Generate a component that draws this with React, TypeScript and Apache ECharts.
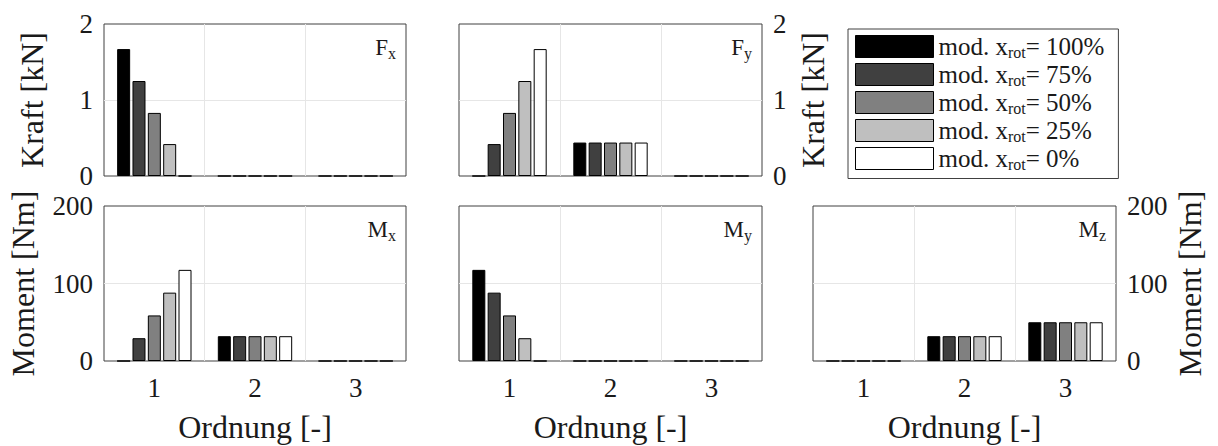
import React, { useEffect, useRef } from 'react';
import * as echarts from 'echarts';

// ---- data ----
const orders = ['1', '2', '3'];
const levelNames = ['100%', '75%', '50%', '25%', '0%'];
const levelColors = ['#000000', '#404040', '#808080', '#bfbfbf', '#ffffff'];

// each row: one x_rot level, values for order 1,2,3
const fxValues = [[1.67, 0, 0], [1.25, 0, 0], [0.83, 0, 0], [0.42, 0, 0], [0, 0, 0]];
const fyValues = [[0, 0.44, 0], [0.42, 0.44, 0], [0.83, 0.44, 0], [1.25, 0.44, 0], [1.67, 0.44, 0]];
const mxValues = [[0, 32, 0], [29.4, 32, 0], [58.8, 32, 0], [88.2, 32, 0], [117.6, 32, 0]];
const myValues = [[117.6, 0, 0], [88.2, 0, 0], [58.8, 0, 0], [29.4, 0, 0], [0, 0, 0]];
const mzValues = [[0, 32, 50], [0, 32, 50], [0, 32, 50], [0, 32, 50], [0, 32, 50]];

const forceTicks = { max: 2, interval: 1 };
const momentTicks = { max: 200, interval: 100 };
const xName = 'Ordnung [-]';
const forceName = 'Kraft [kN]';
const momentName = 'Moment [Nm]';

// ---- layout ----
const FONT = "'Liberation Serif', 'DejaVu Serif', serif";
const TXT = '#1a1a1a';

const panels = [
  { data: fxValues, sym: ['F', 'x'], left: 104, top: 24, width: 302, height: 152, ticks: forceTicks, side: 'left', yLabel: true, yName: forceName, nameGap: 56, xLabel: false },
  { data: fyValues, sym: ['F', 'y'], left: 459, top: 24, width: 303, height: 152, ticks: forceTicks, side: 'right', yLabel: true, yName: forceName, nameGap: 35, xLabel: false },
  { data: mxValues, sym: ['M', 'x'], left: 104, top: 206, width: 302, height: 155, ticks: momentTicks, side: 'left', yLabel: true, yName: momentName, nameGap: 65, xLabel: true },
  { data: myValues, sym: ['M', 'y'], left: 459, top: 206, width: 303, height: 155, ticks: momentTicks, side: 'left', yLabel: false, yName: '', nameGap: 0, xLabel: true },
  { data: mzValues, sym: ['M', 'z'], left: 813, top: 206, width: 303, height: 155, ticks: momentTicks, side: 'right', yLabel: true, yName: momentName, nameGap: 58, xLabel: true },
];

export default function App() {
  const ref = useRef<HTMLDivElement>(null);
  useEffect(() => {
    if (!ref.current) return;
    const chart = echarts.init(ref.current, undefined, { renderer: 'svg' });

    const grid = panels.map((p) => ({
      left: p.left, top: p.top, width: p.width, height: p.height,
      show: true, borderColor: '#404040', borderWidth: 1, backgroundColor: 'transparent',
      containLabel: false,
    }));

    const xAxis = panels.map((p, i) => ({
      gridIndex: i, type: 'category', data: orders,
      axisLine: { show: false }, axisTick: { show: false },
      axisLabel: { show: p.xLabel, fontFamily: FONT, fontSize: 27, color: TXT, margin: 13 },
      splitLine: { show: true, showMinLine: false, showMaxLine: false, lineStyle: { color: '#e6e6e6', width: 1 } },
      name: p.xLabel ? xName : '', nameLocation: 'middle', nameGap: 50,
      nameTextStyle: { fontFamily: FONT, fontSize: 32, color: TXT },
    }));

    const yAxis = panels.map((p, i) => ({
      gridIndex: i, type: 'value', min: 0, max: p.ticks.max, interval: p.ticks.interval,
      position: p.side,
      axisLine: { show: false }, axisTick: { show: false },
      axisLabel: { show: p.yLabel, fontFamily: FONT, fontSize: 27, color: TXT, margin: 11 },
      splitLine: { show: true, showMinLine: false, showMaxLine: false, lineStyle: { color: '#e6e6e6', width: 1 } },
      name: p.yName, nameLocation: 'middle', nameGap: p.nameGap, nameRotate: 90,
      nameTextStyle: { fontFamily: FONT, fontSize: 32, color: TXT },
    }));

    const series: any[] = [];
    panels.forEach((p, pi) => {
      levelNames.forEach((lv, li) => {
        series.push({
          type: 'bar', name: lv, xAxisIndex: pi, yAxisIndex: pi,
          data: p.data[li], barWidth: 13, barGap: '18%',
          itemStyle: { color: levelColors[li], borderColor: '#000', borderWidth: 1 },
        });
      });
    });

    const title = panels.map((p) => ({
      text: `{a|${p.sym[0]}}{s|${p.sym[1]}}`,
      right: 1218 - (p.left + p.width - 10), top: p.top + 9, padding: 0,
      textStyle: {
        fontFamily: FONT, fontWeight: 'normal',
        rich: {
          a: { fontFamily: FONT, fontWeight: 'normal', fontSize: 23, color: TXT, lineHeight: 28 },
          s: { fontFamily: FONT, fontWeight: 'normal', fontSize: 16, color: TXT, lineHeight: 16, verticalAlign: 'bottom' },
        },
      },
    }));

    chart.setOption({
      animation: false,
      backgroundColor: '#ffffff',
      textStyle: { fontFamily: FONT },
      title,
      grid, xAxis, yAxis, series,
      legend: {
        data: levelNames, orient: 'vertical', left: 848, top: 29,
        padding: [5, 14, 6, 7], itemGap: 1.5, itemWidth: 78, itemHeight: 22,
        borderColor: '#404040', borderWidth: 1, backgroundColor: '#fff',
        icon: 'rect', selectedMode: false,
        itemStyle: { borderColor: '#000', borderWidth: 1 },
        formatter: (name: string) => `{a|mod. x}{s|rot}{a|= ${name}}`,
        textStyle: {
          fontFamily: FONT,
          rich: {
            a: { fontFamily: FONT, fontSize: 25, color: TXT, lineHeight: 28 },
            s: { fontFamily: FONT, fontSize: 16, color: TXT, lineHeight: 15, verticalAlign: 'bottom' },
          },
        },
      },
    });
    return () => chart.dispose();
  }, []);
  return <div ref={ref} style={{ position: 'fixed', left: 0, top: 0, width: 1218, height: 446 }} />;
}
